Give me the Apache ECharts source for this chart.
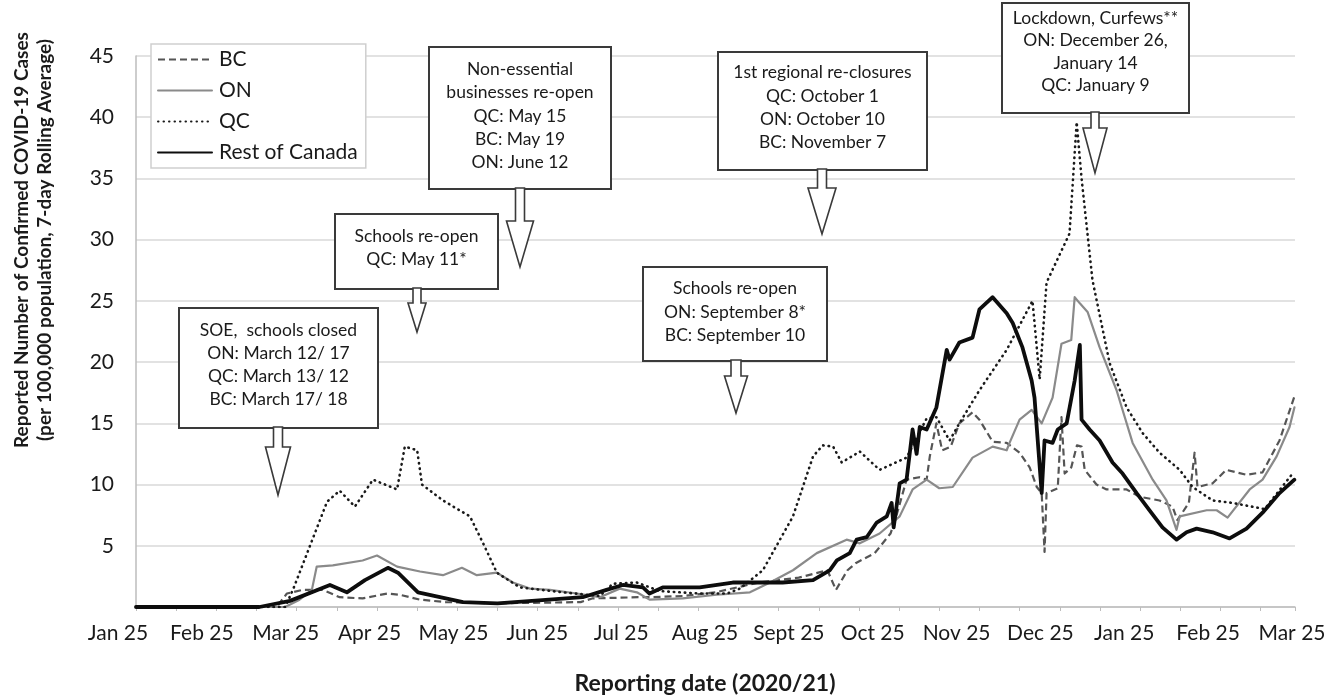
<!DOCTYPE html>
<html><head><meta charset="utf-8">
<script src="https://cdn.jsdelivr.net/npm/echarts@6/dist/echarts.min.js"></script>
<style>html,body{margin:0;padding:0;background:#fff}#c{width:1331px;height:700px}</style>
</head><body><div id="c"></div>
<script>
// x labels (one per month)
const monthLabels = ['Jan 25','Feb 25','Mar 25','Apr 25','May 25','Jun 25','Jul 25','Aug 25','Sept 25','Oct 25','Nov 25','Dec 25','Jan 25','Feb 25','Mar 25'];
const seriesNames = ['BC','ON','QC','Rest of Canada'];
// data: [day since start of axis, cases per 100,000 (7-day avg)]
const bcData = [[0,0],[49,0],[52.6,1.1],[58,1.4],[65,1.4],[71,0.8],[79,0.7],[87.5,1.1],[92,1.0],[99,0.6],[108,0.4],[126,0.3],[155,0.4],[159,0.7],[175,0.8],[179,0.8],[191,0.9],[202,1.2],[217,2.0],[231,2.4],[241,3.0],[244,1.4],[248,3.0],[251,3.6],[257.5,4.4],[263,6.0],[265,7.4],[268.6,10.4],[273,10.6],[275.6,10.4],[276.7,12.3],[279,15.0],[281,12.8],[284,13.1],[287,15.0],[291.6,15.9],[294,15.3],[298.6,13.5],[303.5,13.4],[308,12.6],[311.5,11.4],[314,9.8],[315.7,9.3],[316.7,4.5],[317.4,9.3],[321.3,9.7],[322.6,15.5],[323.7,10.9],[326,11.4],[328,13.2],[329.6,13.1],[330.7,11.2],[334.8,10.0],[338.3,9.6],[345.3,9.6],[349.8,9.0],[356.8,8.7],[361.3,8.2],[363,7.1],[367,8.5],[369,12.6],[370,9.8],[375.3,10.1],[380,11.2],[387,10.8],[392.7,11.0],[398.6,13.6],[403.8,17.2]];
const onData = [[0,0],[52,0],[57,0.6],[61.3,1.4],[63,3.3],[68.6,3.4],[79,3.8],[84,4.2],[91,3.3],[99,2.9],[107,2.6],[113.6,3.2],[118.8,2.6],[125.8,2.8],[131.4,2.0],[137.3,1.5],[144.3,1.4],[153.7,1.1],[161.7,0.8],[168.6,1.5],[174.6,1.2],[179,0.6],[190.6,0.7],[202.4,1.0],[214,1.2],[221,2.0],[229,3.0],[237.3,4.4],[247.7,5.5],[252.3,5.2],[259.2,6.0],[266.2,7.4],[270.7,9.6],[275.6,10.4],[280,9.7],[284.7,9.8],[291.6,12.2],[298.6,13.1],[303.5,12.8],[304.5,13.4],[308,15.3],[312.2,16.1],[315.7,15.0],[319.5,17.1],[322.6,21.5],[326,21.8],[327.2,25.3],[329,24.8],[331.7,24.1],[335.9,21.2],[341.8,17.7],[347.4,13.4],[354.4,10.4],[359.2,8.7],[362.7,6.3],[363.8,7.4],[373.2,7.9],[376.7,7.9],[380.5,7.3],[388.2,9.6],[392.7,10.4],[397.6,12.3],[402.1,14.7],[403.8,16.3]];
const qcData = [[0,0],[52,0],[54.7,1.4],[66.6,8.6],[71,9.5],[76.3,8.2],[82.6,10.4],[91,9.6],[93.7,13.1],[98,12.8],[99.7,10.0],[107,8.7],[116.4,7.4],[121,5.2],[125.8,2.8],[133.8,1.6],[148.8,1.2],[161.7,0.9],[166.2,1.9],[174.6,2.0],[182.6,1.3],[196.5,1.1],[206,1.1],[210.5,1.5],[218.5,3.0],[229,7.4],[236,12.3],[239.4,13.2],[243,13.1],[246,11.8],[252.3,12.7],[259.2,11.2],[268.6,12.2],[275.6,15.4],[279,15.5],[283.6,13.6],[287,15.0],[294,17.7],[303.5,21.0],[312.5,25.0],[315,18.6],[317.4,26.5],[325.4,30.5],[327.9,39.6],[329.6,35.0],[333.4,26.7],[339.4,19.9],[345.3,16.3],[350.9,14.2],[356.8,12.6],[363.8,11.2],[368.3,9.8],[375.3,8.7],[382.2,8.5],[393.4,8.0],[403.5,11.0]];
const rocData = [[0,0],[43,0],[53.7,0.5],[67.6,1.8],[73.5,1.2],[79.8,2.2],[87.8,3.2],[91.3,2.8],[98.3,1.2],[114,0.4],[126,0.3],[144,0.6],[155.7,0.8],[164,1.4],[169.7,1.8],[176.7,1.6],[179,1.1],[183.6,1.6],[196.5,1.6],[208,2.0],[225.4,2.0],[236,2.2],[241.8,3.0],[244.3,3.8],[248.8,4.4],[251.2,5.5],[254.7,5.7],[258.2,6.9],[261.7,7.4],[263.4,8.5],[264.1,6.5],[266.2,10.1],[268.6,10.4],[270.7,14.5],[272.1,12.5],[273.2,14.7],[275.6,14.5],[279,16.3],[282.6,21.0],[283.6,20.2],[287,21.6],[291.6,22.0],[294,24.3],[298.6,25.3],[303.5,24.0],[305.6,23.2],[309,21.2],[312.2,18.5],[313.2,17.1],[315.7,9.3],[316.7,13.6],[319.5,13.4],[321.3,14.5],[324.4,15.0],[327.2,18.5],[329,21.4],[329.6,15.3],[332.4,14.5],[335.9,13.6],[340.4,11.8],[343.9,10.9],[348.8,9.3],[353.3,7.9],[357.8,6.5],[362.7,5.5],[366.2,6.1],[369.7,6.4],[375.3,6.1],[381.2,5.6],[387.1,6.4],[392.7,7.7],[398.6,9.3],[403.8,10.4]];

// callout annotations
const callouts = [
  {lines:['SOE,  schools closed','ON: March 12/ 17','QC: March 13/ 12','BC: March 17/ 18'], box:[179,308,199,120], lh:23, t0:319, ax:278, sw:9, s1:447, hw:25, tip:495},
  {lines:['Schools re-open','QC: May 11*'], box:[335,214,163,75], lh:23, t0:225, ax:417, sw:8, s1:303, hw:18, tip:332},
  {lines:['Non-essential','businesses re-open','QC: May 15','BC: May 19','ON: June 12'], box:[429,47,182,142], lh:23.2, t0:58, ax:520, sw:9, s1:221, hw:27, tip:267},
  {lines:['1st regional re-closures','QC: October 1','ON: October 10','BC: November 7'], box:[718,52,209,118], lh:23.3, t0:61, ax:822, sw:9, s1:188, hw:28, tip:234},
  {lines:['Schools re-open','ON: September 8*','BC: September 10'], box:[643,267,184,94], lh:23.5, t0:277, ax:736, sw:10, s1:376, hw:23, tip:413},
  {lines:['Lockdown, Curfews**','ON: December 26,','January 14','QC: January 9'], box:[1002,3,187,110], lh:22.4, t0:7, ax:1095, sw:8, s1:128, hw:24, tip:173}
];

const FONT = 'Lato, "Open Sans", sans-serif';
const chart = echarts.init(document.getElementById('c'), null, {renderer:'canvas'});

const graphics = [];
callouts.forEach(c => {
  const [x,y,w,h] = c.box;
  const bottom = y + h;
  graphics.push({type:'rect', z:100, shape:{x:x,y:y,width:w,height:h}, style:{fill:'#fff', stroke:'#3a3a3a', lineWidth:2}});
  graphics.push({type:'polygon', z:101, shape:{points:[
    [c.ax - c.sw/2, bottom-1],[c.ax - c.sw/2, c.s1],[c.ax - c.hw/2, c.s1],[c.ax, c.tip],
    [c.ax + c.hw/2, c.s1],[c.ax + c.sw/2, c.s1],[c.ax + c.sw/2, bottom-1]]},
    style:{fill:'#fff', stroke:'#3a3a3a', lineWidth:1.6}});
  graphics.push({type:'text', z:102, x:x + w/2, y:c.t0, style:{text:c.lines.join('\n'), font:'17.5px ' + FONT, fill:'#1a1a1a', textAlign:'center', textVerticalAlign:'top', lineHeight:c.lh}});
});
graphics.push({type:'text', z:102, x:33, y:240, rotation:Math.PI/2, style:{
  text:'Reported Number of Confirmed COVID-19 Cases\n(per 100,000 population, 7-day Rolling Average)',
  font:'bold 19px ' + FONT, fill:'#1a1a1a', textAlign:'center', textVerticalAlign:'middle', lineHeight:23}});

function mkSeries(name, data, color, width, type, cap, z) {
  return {name, type:'line', data, xAxisIndex:0, yAxisIndex:0, symbol:'none', showSymbol:false, z,
    lineStyle:{color, width, type, cap:cap, join:'round'}, itemStyle:{color}, animation:false};
}

chart.setOption({
  animation:false,
  backgroundColor:'#fff',
  grid:[
    {left:136, right:36, top:56, bottom:93},
    {left:118, right:39, top:56, bottom:93}
  ],
  xAxis:[
    {type:'value', gridIndex:0, min:0, max:404, interval:14,
     axisLine:{show:true, lineStyle:{color:'#bdbdbd', width:1.5}},
     axisTick:{show:true, length:4, lineStyle:{color:'#bdbdbd'}},
     axisLabel:{show:false}, splitLine:{show:false}},
    {type:'value', gridIndex:1, min:0, max:monthLabels.length-1, interval:1,
     axisLine:{show:false}, axisTick:{show:false}, splitLine:{show:false},
     axisLabel:{formatter:v => monthLabels[v] || '', fontSize:21, fontFamily:FONT, color:'#1a1a1a', margin:18},
     name:'Reporting date (2020/21)', nameLocation:'middle', nameGap:67,
     nameTextStyle:{fontSize:23, fontWeight:'bold', fontFamily:FONT, color:'#1a1a1a'}}
  ],
  yAxis:[
    {type:'value', gridIndex:0, min:0, max:45, interval:5,
     axisLine:{show:true, lineStyle:{color:'#bdbdbd', width:1.5}},
     axisTick:{show:false},
     splitLine:{show:true, lineStyle:{color:'#d9d9d9', width:1.5}},
     axisLabel:{formatter:v => v === 0 ? '' : String(v), fontSize:21, fontFamily:FONT, color:'#1a1a1a', margin:22}},
    {type:'value', gridIndex:1, min:0, max:45, show:false}
  ],
  legend:{
    left:151, top:44, orient:'vertical', itemWidth:54, itemHeight:14, itemGap:10,
    padding:[5,8,5,6], backgroundColor:'#fff', borderColor:'#cfcfcf', borderWidth:1.5,
    itemStyle:{opacity:0, borderWidth:0},
    textStyle:{fontSize:21, fontFamily:FONT, color:'#1a1a1a', padding:[0,0,0,2]},
    data:seriesNames, z:100
  },
  graphic:graphics,
  series:[
    mkSeries(seriesNames[0], bcData, '#555555', 2.2, [7,4], 'butt', 3),
    mkSeries(seriesNames[1], onData, '#8a8a8a', 2.2, 'solid', 'round', 4),
    mkSeries(seriesNames[2], qcData, '#1a1a1a', 2.6, [0.5,5], 'round', 5),
    mkSeries(seriesNames[3], rocData, '#0d0d0d', 3.8, 'solid', 'round', 6)
  ]
});
</script></body></html>
